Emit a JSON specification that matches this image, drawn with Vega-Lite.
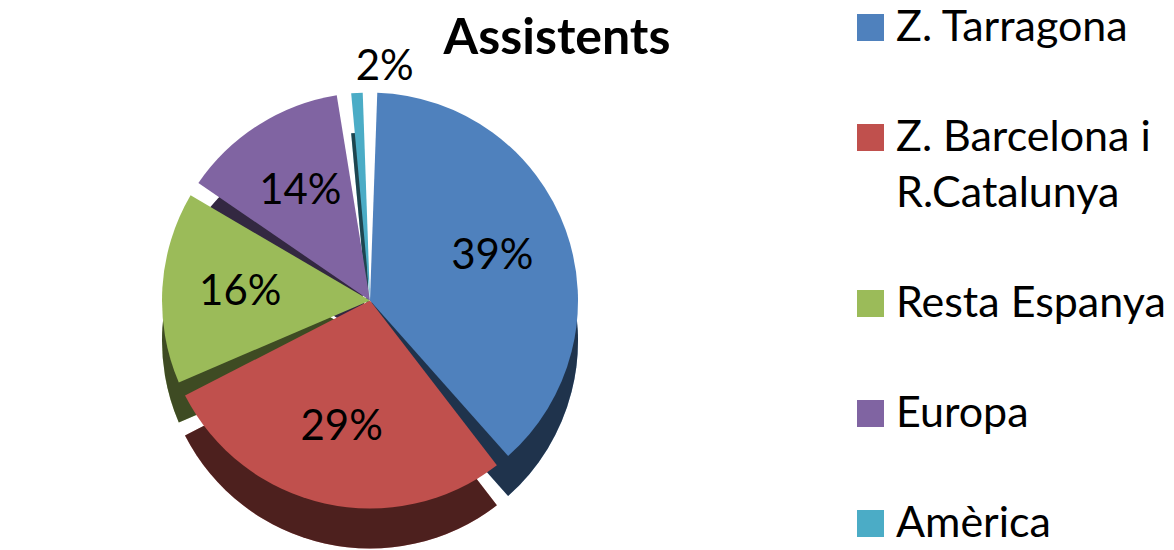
{
  "$schema": "https://vega.github.io/schema/vega-lite/v6.json",
  "width": 740,
  "height": 455,
  "autosize": "none",
  "padding": {"top": 95, "left": 0, "right": 434, "bottom": 0},
  "background": "white",
  "title": {
    "text": "Assistents",
    "font": "Lato",
    "fontSize": 50,
    "fontWeight": "bold",
    "color": "black",
    "anchor": "middle",
    "dx": 187,
    "offset": -58
  },
  "data": {
    "values": [
      {"idx": 1, "category": "Z. Tarragona", "value": 39, "label": "39%"},
      {"idx": 2, "category": "Z. Barcelona i R.Catalunya", "value": 29, "label": "29%"},
      {"idx": 3, "category": "Resta Espanya", "value": 16, "label": "16%"},
      {"idx": 4, "category": "Europa", "value": 14, "label": "14%"},
      {"idx": 5, "category": "Amèrica", "value": 2, "label": "2%"}
    ]
  },
  "encoding": {
    "theta": {"field": "value", "type": "quantitative", "stack": true},
    "order": {"field": "idx", "type": "quantitative"}
  },
  "layer": [
    {
      "mark": {"type": "arc", "outerRadius": 208, "padAngle": 0.07, "yOffset": 18},
      "encoding": {
        "color": {
          "field": "category",
          "type": "nominal",
          "scale": {
            "domain": ["Z. Tarragona", "Z. Barcelona i R.Catalunya", "Resta Espanya", "Europa", "Amèrica"],
            "range": ["#4F81BD", "#C0504D", "#9BBB59", "#8064A2", "#4BACC6"]
          },
          "legend": {
            "title": null,
            "orient": "none",
            "legendX": 849,
            "legendY": -89,
            "symbolType": "square",
            "symbolSize": 729,
            "symbolStrokeWidth": 0,
            "labelFont": "Lato",
            "labelFontSize": 43,
            "labelColor": "black",
            "labelOffset": 4,
            "labelLimit": 400,
            "rowPadding": 66,
            "labelExpr": "datum.label == 'Z. Barcelona i R.Catalunya' ? ['Z. Barcelona i', 'R.Catalunya'] : datum.label",
            "encode": {"labels": {"update": {"lineHeight": {"value": 56}}}}
          }
        }
      }
    },
    {
      "mark": {"type": "arc", "outerRadius": 208, "padAngle": 0.07, "yOffset": 18, "fill": "black", "opacity": 0.6},
      "encoding": {}
    },
    {
      "mark": {"type": "arc", "outerRadius": 208, "padAngle": 0.07, "yOffset": -22},
      "encoding": {
        "color": {"field": "category", "type": "nominal"}
      }
    },
    {
      "transform": [{"filter": "datum.value > 5"}],
      "mark": {"type": "text", "radius": 130, "yOffset": -22, "font": "Lato", "fontSize": 42, "color": "black"},
      "encoding": {
        "text": {"field": "label", "type": "nominal"}
      }
    },
    {
      "transform": [{"filter": "datum.value <= 5"}],
      "mark": {"type": "text", "radius": 234, "yOffset": -22, "font": "Lato", "fontSize": 42, "color": "black"},
      "encoding": {
        "text": {"field": "label", "type": "nominal"}
      }
    }
  ]
}
